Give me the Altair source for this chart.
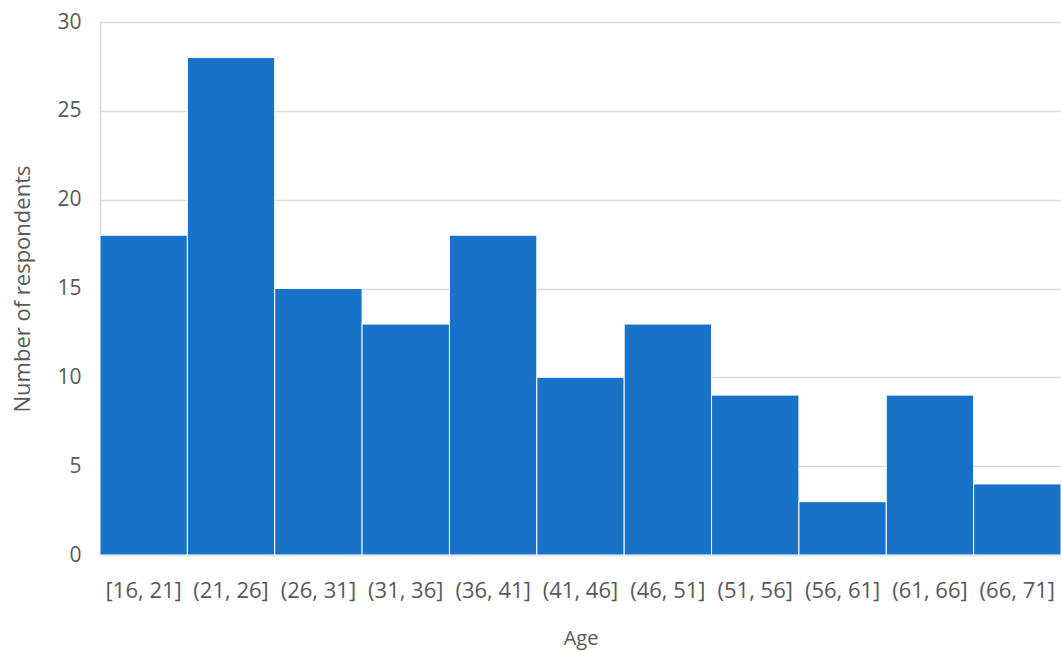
import altair as alt
import pandas as pd

categories = ["[16, 21]", "(21, 26]", "(26, 31]", "(31, 36]", "(36, 41]", "(41, 46]",
              "(46, 51]", "(51, 56]", "(56, 61]", "(61, 66]", "(66, 71]"]
counts = [18, 28, 15, 13, 18, 10, 13, 9, 3, 9, 4]

df = pd.DataFrame({"Age": categories, "Count": counts})

FONT = "Open Sans"
chart = alt.Chart(df).mark_bar(color="#1873C8", stroke="white", strokeWidth=1).encode(
    x=alt.X("Age:N", sort=categories,
            scale=alt.Scale(paddingInner=0, paddingOuter=0),
            axis=alt.Axis(title="Age", labelAngle=0, labelFontSize=22, labelColor="#595959",
                          labelFont=FONT, titleFont=FONT, titleFontSize=20, titleColor="#595959",
                          titleFontWeight="normal", labelPadding=25, titlePadding=27,
                          ticks=False, domainColor="#d9d9d9", domainWidth=1.5)),
    y=alt.Y("Count:Q", scale=alt.Scale(domain=[0, 30]),
            axis=alt.Axis(title="Number of respondents", values=[0, 5, 10, 15, 20, 25, 30],
                          labelFontSize=21, labelColor="#595959", labelFont=FONT,
                          titleFont=FONT, titleFontSize=22, titleColor="#595959",
                          titleFontWeight="normal", labelPadding=19, titlePadding=22,
                          ticks=False, gridColor="#d9d9d9", gridWidth=1.5,
                          domainColor="#d9d9d9", domainWidth=1.5)),
).properties(
    width=961, height=533,
    autosize=alt.AutoSizeParams(type="none"),
    padding={"left": 100, "top": 22, "right": 0, "bottom": 96},
).configure_view(stroke=None)

chart.save("out.html", embed_options={"renderer": "svg", "actions": False})
